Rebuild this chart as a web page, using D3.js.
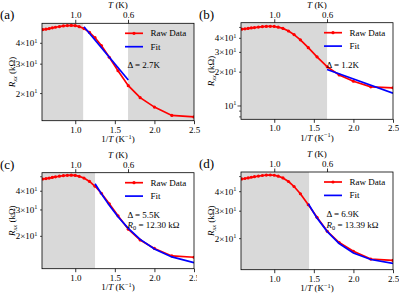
<!DOCTYPE html>
<html>
<head>
<meta charset="utf-8">
<script src="https://cdn.jsdelivr.net/npm/d3@7"></script>
<style>
  body { margin: 0; background: #fff; }
  svg { display: block; font-family: "Liberation Serif", "DejaVu Serif", serif; }
</style>
</head>
<body>
<div class="visContainer"></div>
<script>
// Raw data (same curve in every panel).
const invT = [0.59, 0.63, 0.67, 0.71, 0.75, 0.80, 0.85, 0.90, 0.95, 1.0, 1.05, 1.11,
              1.18, 1.25, 1.33, 1.43, 1.54, 1.67, 1.82, 2.0, 2.22, 2.5];
const rawR = [48.3, 48.6, 49.0, 49.5, 49.9, 50.4, 50.8, 51.1, 51.2, 51.0, 50.3, 49.0,
              46.5, 43.2, 38.8, 33.0, 27.4, 22.3, 18.9, 16.6, 14.8, 14.5];

// Fits.
const fitAx = [1.11, 1.67];
const fitAR = [50.3, 24.1];
const fitBx = [1.667, 2.5];
const fitBR = [21.1, 13.0];
const fitCx = [1.25, 1.33, 1.43, 1.54, 1.67, 1.82, 2.0, 2.22, 2.5];
const fitCR = [44.9, 38.5, 32.2, 27.0, 22.6, 19.1, 16.45, 14.57, 13.35];
const fitDx = [1.43, 1.54, 1.67, 1.82, 2.0, 2.22, 2.5];
const fitDR = [33.5, 27.1, 22.2, 18.6, 16.2, 14.7, 13.9];

// Ticks.
const bottomTicks = [1.0, 1.5, 2.0, 2.5];
const topTicksT = [1.0, 0.6];
const xDomain = [0.58, 2.5];

const panels = [
  { tag: '(a)', left: 42, top: 23.3, right: 194, bottom: 120.7, y: [13.76, 52.7],
    fx: fitAx, fR: fitAR, shade: [[0.58, 1.10], [1.667, 2.5]],
    yLab: [2, 3, 4], yMinor: [50], notes: ['Δ = 2.7K'], clip: null },
  { tag: '(b)', left: 241, top: 22.7, right: 393, bottom: 119.3, y: [7.61, 55.1],
    fx: fitBx, fR: fitBR, shade: [[0.58, 1.667]],
    yLab: [1, 2, 3, 4], yMinor: [0.8, 0.9, 5], notes: ['Δ = 1.2K'], clip: null },
  { tag: '(c)', left: 42, top: 172.7, right: 194, bottom: 268.7, y: [12.16, 53.2],
    fx: fitCx, fR: fitCR, shade: [[0.58, 1.25]],
    yLab: [2, 3, 4], yMinor: [5], notes: ['Δ = 5.5K', 'R0 = 12.30 kΩ'], clip: 197 },
  { tag: '(d)', left: 241, top: 172, right: 393, bottom: 269.7, y: [12.65, 53.5],
    fx: fitDx, fR: fitDR, shade: [[0.58, 1.44]],
    yLab: [2, 3, 4], yMinor: [5], notes: ['Δ = 6.9K', 'R0 = 13.39 kΩ'], clip: null }
];

const width = 399, height = 296;
const fs = 9;

const svg = d3.select('.visContainer')
              .append('svg')
              .attr('width', width)
              .attr('height', height);

panels.forEach((p, pi) => {
  let g = svg.append('g');
  if (p.clip) {
    svg.append('clipPath').attr('id', 'clip' + pi)
       .append('rect').attr('x', 0).attr('y', 0).attr('width', p.clip).attr('height', height);
    g.attr('clip-path', 'url(#clip' + pi + ')');
  }

  const x = d3.scaleLinear().domain(xDomain).range([p.left, p.right]);
  const y = d3.scaleLog().domain(p.y).range([p.bottom, p.top]);

  // Shaded regions.
  g.selectAll('rect.shade')
   .data(p.shade)
   .enter()
   .append('rect')
   .attr('class', 'shade')
   .attr('x', (d) => x(d[0]))
   .attr('y', p.top)
   .attr('width', (d) => x(d[1]) - x(d[0]))
   .attr('height', p.bottom - p.top)
   .attr('fill', '#d9d9d9');

  const plotClip = 'pclip' + pi;
  svg.append('clipPath').attr('id', plotClip)
     .append('rect').attr('x', p.left).attr('y', p.top)
     .attr('width', p.right - p.left).attr('height', p.bottom - p.top);
  const plot = g.append('g').attr('clip-path', 'url(#' + plotClip + ')');

  const line = d3.line().x((d) => x(d[0])).y((d) => y(d[1]));
  const raw = invT.map((v, i) => [v, rawR[i]]);
  plot.append('path')
      .datum(raw)
      .attr('d', line)
      .attr('fill', 'none')
      .attr('stroke', 'red')
      .attr('stroke-width', 1.7);
  plot.selectAll('circle')
      .data(raw)
      .enter()
      .append('circle')
      .attr('cx', (d) => x(d[0]))
      .attr('cy', (d) => y(d[1]))
      .attr('r', 1.6)
      .attr('fill', 'red');

  const fit = p.fx.map((v, i) => [v, p.fR[i]]);
  plot.append('path')
      .datum(fit)
      .attr('d', line)
      .attr('fill', 'none')
      .attr('stroke', 'blue')
      .attr('stroke-width', 1.7);

  // Bottom axis.
  const xAxis = d3.axisBottom(x).tickValues(bottomTicks).tickFormat(d3.format('.1f')).tickSize(3.5).tickPadding(2);
  const gx = g.append('g').attr('transform', 'translate(0,' + p.bottom + ')').call(xAxis);
  gx.select('.domain').remove();
  gx.selectAll('text').attr('font-size', fs).attr('font-family', 'Liberation Serif').attr('fill', '#000');
  gx.selectAll('line').attr('stroke-width', 0.8);

  // Top axis T (K).
  const xTop = d3.axisTop(x).tickValues(topTicksT.map((t) => 1 / t)).tickFormat((d, i) => d3.format('.1f')(topTicksT[i])).tickSize(3.5).tickPadding(1.5);
  const gt = g.append('g').attr('transform', 'translate(0,' + p.top + ')').call(xTop);
  gt.select('.domain').remove();
  gt.selectAll('text').attr('font-size', fs).attr('font-family', 'Liberation Serif').attr('fill', '#000');
  gt.selectAll('line').attr('stroke-width', 0.8);

  // Y ticks.
  const yLabVals = p.yLab.map((c) => c * 10);
  const yMinVals = p.yMinor.map((c) => c * 10);
  g.selectAll('line.yminor')
   .data(yMinVals)
   .enter()
   .append('line')
   .attr('x1', p.left).attr('x2', p.left - 2)
   .attr('y1', (d) => y(d)).attr('y2', (d) => y(d))
   .attr('stroke', '#000').attr('stroke-width', 0.6);
  g.selectAll('line.ylab')
   .data(yLabVals)
   .enter()
   .append('line')
   .attr('x1', p.left).attr('x2', (d) => p.left - (d === 10 ? 3.5 : 2))
   .attr('y1', (d) => y(d)).attr('y2', (d) => y(d))
   .attr('stroke', '#000').attr('stroke-width', 0.7);
  const yl = g.selectAll('text.ylab')
   .data(yLabVals)
   .enter()
   .append('text')
   .attr('x', p.left - 4.5)
   .attr('y', (d) => y(d) + 3)
   .attr('text-anchor', 'end')
   .attr('font-size', fs);
  yl.append('tspan').text((d) => d === 10 ? '10' : (d / 10) + '×10');
  yl.append('tspan').attr('dy', -3.5).attr('font-size', 6.3).text('1');

  // Frame.
  g.append('rect')
   .attr('x', p.left).attr('y', p.top)
   .attr('width', p.right - p.left).attr('height', p.bottom - p.top)
   .attr('fill', 'none').attr('stroke', '#000').attr('stroke-width', 0.8);

  // Labels.
  const cx = (p.left + p.right) / 2;
  g.append('text').attr('x', p.left - 42).attr('y', p.top - 4).attr('font-size', 13).text(p.tag);
  const tl = g.append('text').attr('x', cx).attr('y', p.top - 15).attr('text-anchor', 'middle').attr('font-size', fs);
  tl.append('tspan').attr('font-style', 'italic').text('T');
  tl.append('tspan').text(' (K)');
  const bl = g.append('text').attr('x', cx).attr('y', p.bottom + 21.5).attr('text-anchor', 'middle').attr('font-size', fs);
  bl.append('tspan').text('1/');
  bl.append('tspan').attr('font-style', 'italic').text('T');
  bl.append('tspan').text(' (K');
  bl.append('tspan').attr('dy', -3.5).attr('font-size', 6.3).text('−1');
  bl.append('tspan').attr('dy', 3.5).text(')');
  const ly = (p.top + p.bottom) / 2;
  const rl = g.append('text').attr('transform', 'translate(' + (p.left - 27) + ',' + ly + ') rotate(-90)')
              .attr('text-anchor', 'middle').attr('font-size', fs);
  rl.append('tspan').attr('font-style', 'italic').text('R');
  rl.append('tspan').attr('font-style', 'italic').attr('font-size', 6.3).attr('dy', 2).text('xx');
  rl.append('tspan').attr('dy', -2).text(' (kΩ)');

  // Legend.
  const lx = p.left + 83;
  const lg = g.append('g');
  lg.append('line').attr('x1', lx).attr('x2', lx + 18).attr('y1', p.top + 10).attr('y2', p.top + 10)
    .attr('stroke', 'red').attr('stroke-width', 1.7);
  lg.append('circle').attr('cx', lx + 9).attr('cy', p.top + 10).attr('r', 1.6).attr('fill', 'red');
  lg.append('text').attr('x', lx + 25.5).attr('y', p.top + 13).attr('font-size', fs).text('Raw Data');
  lg.append('line').attr('x1', lx).attr('x2', lx + 18).attr('y1', p.top + 23.4).attr('y2', p.top + 23.4)
    .attr('stroke', 'blue').attr('stroke-width', 1.7);
  lg.append('text').attr('x', lx + 25.5).attr('y', p.top + 26.4).attr('font-size', fs).text('Fit');

  // Notes.
  p.notes.forEach((n, i) => {
    const t = g.append('text').attr('x', p.left + 85.5).attr('y', p.top + 45 + i * 10.5).attr('font-size', fs);
    if (n.startsWith('R0')) {
      t.append('tspan').attr('font-style', 'italic').text('R');
      t.append('tspan').attr('font-size', 6.3).attr('dy', 2).text('0');
      t.append('tspan').attr('dy', -2).text(n.slice(2));
    } else {
      t.text(n);
    }
  });
});
</script>
</body>
</html>
